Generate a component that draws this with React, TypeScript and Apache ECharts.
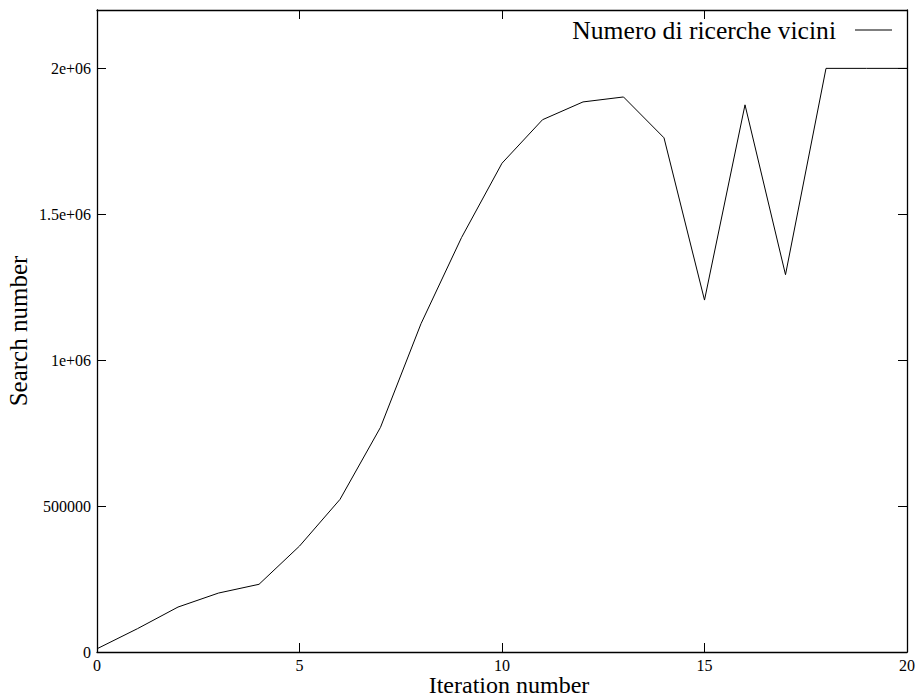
import React, { useEffect, useRef } from "react";
import * as echarts from "echarts";

const iterations = [0, 1, 2, 3, 4, 5, 6, 7, 8, 9, 10, 11, 12, 13, 14, 15, 16, 17, 18, 19, 20];
const searches = [
  11000, 80000, 154000, 202000, 232000, 363000, 523000, 770000, 1125000, 1420000,
  1675000, 1824000, 1885000, 1902000, 1762000, 1206000, 1875000, 1293000, 2000000,
  2000000, 2000000,
];
const seriesName = "Numero di ricerche vicini";
const xTitle = "Iteration number";
const yTitle = "Search number";

const fmtY = (v: number) => {
  if (v === 0) return "0";
  if (v >= 1000000) {
    const m = v / 1000000;
    return `${m}e+06`;
  }
  return String(v);
};

const FONT = "'Liberation Serif', 'Times New Roman', serif";

export default function App() {
  const ref = useRef<HTMLDivElement>(null);
  useEffect(() => {
    if (!ref.current) return;
    const chart = echarts.init(ref.current, null, { renderer: "svg" });
    const axisLine = { show: true, onZero: false, lineStyle: { color: "#000", width: 1.3 } };
    const tick = { show: true, inside: true, length: 9, lineStyle: { color: "#000", width: 1 } };
    chart.setOption({
      animation: false,
      backgroundColor: "#fff",
      textStyle: { fontFamily: FONT },
      grid: {
        left: 97,
        top: 10,
        right: 10,
        bottom: 45,
        containLabel: false,
        outerBoundsMode: "none",
      },
      legend: {
        show: true,
        right: 25,
        top: 17,
        padding: 0,
        align: "right",
        itemWidth: 37,
        itemHeight: 14,
        itemGap: 0,
        textStyle: { fontFamily: FONT, fontSize: 25.6, color: "#000", padding: [0, 14, 0, 0] },
        data: [{ name: seriesName, icon: "path://M0,0 L40,0 L40,1 L0,1 Z" }],
      },
      xAxis: [
        {
          type: "value",
          min: 0,
          max: 20,
          interval: 5,
          position: "bottom",
          name: xTitle,
          nameLocation: "middle",
          nameGap: 21,
          nameMoveOverlap: false,
          nameTextStyle: { fontFamily: FONT, fontSize: 24, color: "#000", padding: [0, 0, 0, 14] },
          axisLine,
          axisTick: tick,
          splitLine: { show: false },
          axisLabel: { fontFamily: FONT, fontSize: 16, color: "#000", margin: 5 },
        },
        {
          type: "value",
          min: 0,
          max: 20,
          interval: 5,
          position: "top",
          axisLine,
          axisTick: tick,
          splitLine: { show: false },
          axisLabel: { show: false },
        },
      ],
      yAxis: [
        {
          type: "value",
          min: 0,
          max: 2200000,
          interval: 500000,
          position: "left",
          name: yTitle,
          nameLocation: "middle",
          nameGap: 66,
          nameMoveOverlap: false,
          nameRotate: 90,
          nameTextStyle: { fontFamily: FONT, fontSize: 25, color: "#000" },
          axisLine,
          axisTick: tick,
          splitLine: { show: false },
          axisLabel: {
            fontFamily: FONT,
            fontSize: 16,
            color: "#000",
            margin: 6,
            formatter: (v: number) => (v > 2000000 ? "" : fmtY(v)),
            showMaxLabel: false,
          },
        },
        {
          type: "value",
          min: 0,
          max: 2200000,
          interval: 500000,
          position: "right",
          axisLine,
          axisTick: tick,
          splitLine: { show: false },
          axisLabel: { show: false },
        },
      ],
      series: [
        {
          name: seriesName,
          type: "line",
          xAxisIndex: 0,
          yAxisIndex: 0,
          data: iterations.map((x, i) => [x, searches[i]]),
          symbol: "none",
          showSymbol: false,
          lineStyle: { color: "#000", width: 1 },
          itemStyle: { color: "#000" },
        },
      ],
    });
    return () => chart.dispose();
  }, []);
  return <div ref={ref} style={{ width: 917, height: 697, position: "absolute", left: 0, top: 0 }} />;
}
